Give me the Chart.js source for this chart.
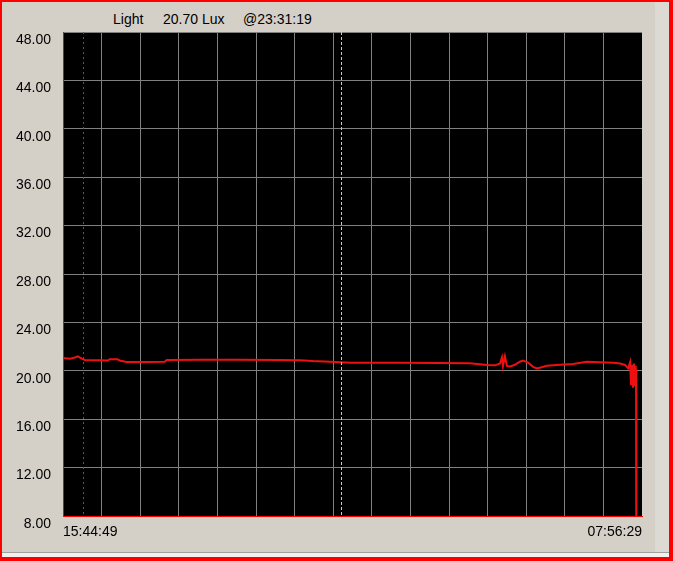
<!DOCTYPE html>
<html>
<head>
  <meta charset="utf-8">
  <script src="https://cdn.jsdelivr.net/npm/chart.js"></script>
  <style>
    body{margin:0; background:#d4d0c8; font-family:"Liberation Sans", Arial, sans-serif;}
    .frame{position:absolute; left:0; top:0; width:673px; height:561px; box-sizing:border-box;
      border-style:solid; border-color:#ff0000; border-width:2px 4px 4px 2px;}
    .rband{position:absolute; left:655px; top:2px; width:14px; height:550px; background:#dddad4;}
    .bline{position:absolute; left:2px; top:552px; width:667px; height:1px; background:#a0a0a0;}
    .bband{position:absolute; left:2px; top:553px; width:667px; height:4px; background:#f2f2f2;}
    .head{position:absolute; top:11px; font-size:14px; color:#000; white-space:pre;}
    #chart{position:absolute; left:0; top:0;}
  </style>
</head>
<body>
  <div class="frame"></div>
  <div class="rband"></div>
  <div class="bline"></div>
  <div class="bband"></div>
  <span class="head" style="left:113px">Light</span>
  <span class="head" style="left:163px">20.70 Lux</span>
  <span class="head" style="left:243px">@23:31:19</span>
  <canvas id="chart" width="673" height="561"></canvas>
<script>
"use strict";
// seconds since start of log (15:44:49) and light level in Lux
const startClock = 15 * 3600 + 44 * 60 + 49;
const spanSec = 58300;
const timeSec = [0, 700, 1200, 1500, 1900, 2200, 3700, 4500, 4700, 5500, 5700, 6400,
  8250, 10250, 10450, 13800, 17800, 21850, 23850, 25150, 26900, 28900, 33900, 37950,
  40950, 42700, 43500, 44000, 44200, 44300, 44500, 44700, 45000, 45500, 46000, 46300,
  46800, 47300, 47700, 48200, 48700, 50050, 51350, 52750, 54050, 55400, 56100, 56600,
  56900, 57100, 57200, 57300, 57400, 57500, 57600, 57650, 57700, 57730];
const luxVals = [21.05, 21.0, 21.1, 21.2, 21.0, 20.9, 20.88, 20.85, 20.95, 20.95, 20.85, 20.73,
  20.73, 20.75, 20.9, 20.92, 20.92, 20.9, 20.88, 20.8, 20.75, 20.67, 20.67, 20.65,
  20.62, 20.48, 20.45, 20.6, 21.1, 20.4, 21.2, 20.4, 20.35, 20.5, 20.75, 20.85,
  20.7, 20.35, 20.2, 20.3, 20.42, 20.5, 20.56, 20.75, 20.7, 20.67, 20.6, 20.48,
  20.2, 20.7, 18.8, 20.5, 18.6, 20.6, 18.8, 20.4, 20.0, 0];
// marker lines: gray event mark and the cursor at 23:31:19
const markerSec = [2010, 27990];
const markerColors = ['#5a5a5a', '#a8d8d8'];

const points = timeSec.map((t, i) => ({x: t, y: luxVals[i]}));

const clockLabel = function(sec) {
  const s = Math.round(startClock + sec) % 86400;
  const p = n => String(n).padStart(2, '0');
  return p(Math.floor(s / 3600)) + ':' + p(Math.floor(s / 60) % 60) + ':' + p(s % 60);
};

// dashed vertical markers drawn inside the plot area
const markerPlugin = {
  id: 'markers',
  afterDatasetsDraw(chart) {
    const ctx = chart.ctx, area = chart.chartArea, xs = chart.scales.x;
    ctx.save();
    ctx.lineWidth = 1;
    markerSec.forEach((t, i) => {
      const px = Math.round(xs.getPixelForValue(t)) + 0.5;
      ctx.strokeStyle = markerColors[i];
      ctx.setLineDash(i === 0 ? [2, 3] : [3, 2]);
      ctx.beginPath();
      ctx.moveTo(px, area.top);
      ctx.lineTo(px, area.bottom);
      ctx.stroke();
    });
    ctx.restore();
  }
};

// black plot background
const bgPlugin = {
  id: 'plotBg',
  beforeDraw(chart) {
    const a = chart.chartArea;
    chart.ctx.save();
    chart.ctx.fillStyle = '#000000';
    chart.ctx.fillRect(a.left, a.top, a.right - a.left, a.bottom - a.top);
    chart.ctx.restore();
  }
};

const font = {family: '"Liberation Sans", Arial, sans-serif', size: 14};

new Chart(document.getElementById('chart'), {
  type: 'line',
  data: {
    datasets: [{
      data: points,
      borderColor: '#ee1010',
      borderWidth: 2,
      pointRadius: 0,
      tension: 0
    }]
  },
  options: {
    responsive: false,
    animation: false,
    layout: {padding: {top: 32, right: 31, left: 0, bottom: 0}},
    plugins: {legend: {display: false}, tooltip: {enabled: false}},
    scales: {
      x: {
        type: 'linear',
        min: 0,
        max: spanSec,
        afterFit: s => { s.height = 45; },
        afterBuildTicks: s => {
          s.ticks = Array.from({length: 16}, (_, i) => ({value: i * spanSec / 15}));
        },
        border: {display: true, color: '#ff0000', width: 1},
        grid: {
          drawTicks: false,
          color: c => (c.index === 15 ? 'rgba(0,0,0,0)' : '#808080')
        },
        ticks: {
          autoSkip: false,
          maxRotation: 0,
          align: 'inner',
          padding: 8,
          color: '#000',
          font: font,
          callback: (v, i, arr) => (i === 0 || i === arr.length - 1 ? clockLabel(v) : '')
        }
      },
      y: {
        min: 8,
        max: 48,
        afterFit: s => { s.width = 63; },
        border: {display: true, color: '#ff0000', width: 1},
        grid: {drawTicks: false, color: '#808080'},
        ticks: {
          stepSize: 4,
          padding: 12,
          labelOffset: 8,
          color: '#000',
          font: font,
          callback: v => v.toFixed(2)
        }
      }
    }
  },
  plugins: [bgPlugin, markerPlugin]
});
</script>
</body>
</html>
